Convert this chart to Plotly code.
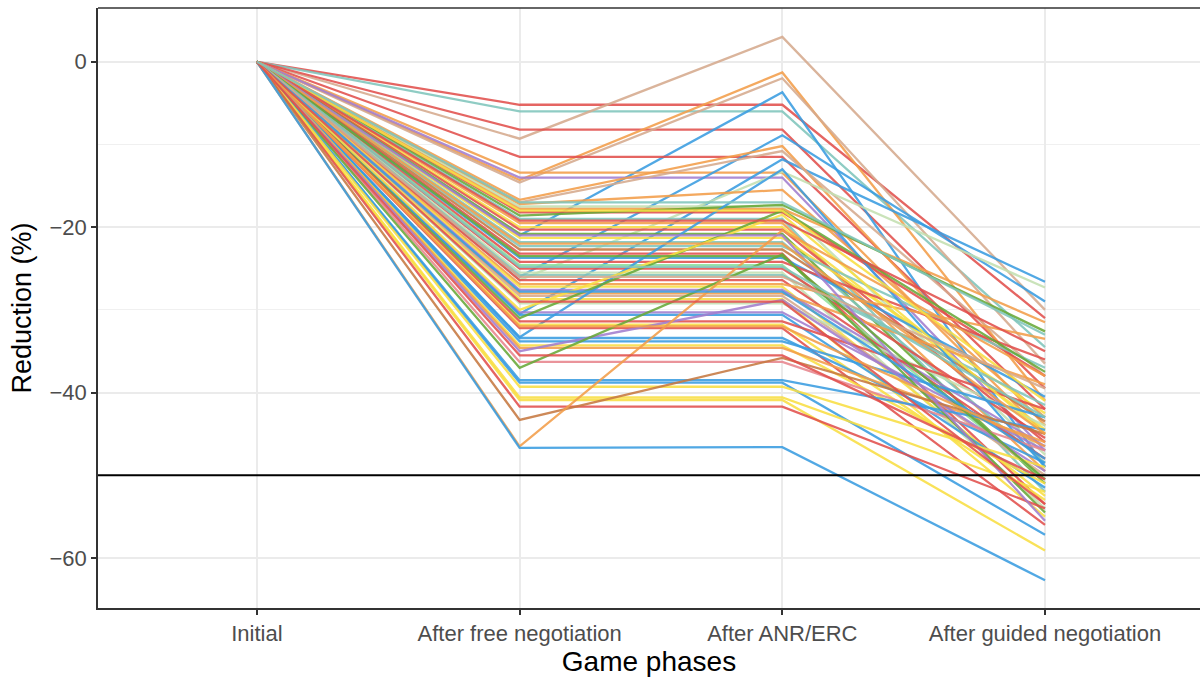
import plotly.graph_objects as go

phases = ["Initial", "After free negotiation", "After ANR/ERC", "After guided negotiation"]

# Reduction (%) per team at each game phase
free = [-5.2, -6.0, -9.3, -8.2, -14.3, -14.6, -21.0, -11.5, -13.4, -14.0,
        -26.0, -30.5, -16.7, -17.0, -26.4, -17.2, -17.5, -17.8, -18.2, -18.6,
        -19.0, -19.5, -20.0, -20.3, -20.8, -21.3, -21.8, -22.3, -22.7, -23.2,
        -23.7, -24.2, -24.6, -25.0, -25.5, -25.8, -26.4, -26.9, -27.2, -27.6,
        -28.0, -28.3, -28.7, -29.2, -33.3, -30.3, -30.6, -31.0, -31.4, -31.8,
        -32.2, -30.0, -33.4, -33.8, -34.3, -34.6, -35.0, -36.3, -37.0, -38.5,
        -38.8, -39.3, -40.6, -40.9, -41.7, -43.3, -46.5, -46.7, -18.0, -19.2,
        -21.0, -22.0, -23.5, -24.8, -26.0, -27.8, -29.0, -32.0, -35.5, -17.0]
anr = [-5.2, -6.0, 3.0, -8.2, -1.3, -2.0, -3.7, -11.5, -13.4, -14.0,
       -8.9, -11.8, -10.2, -10.8, -13.3, -15.5, -17.5, -17.8, -18.2, -17.3,
       -19.0, -19.5, -20.0, -20.3, -20.8, -21.3, -21.8, -22.3, -22.7, -23.2,
       -23.7, -24.2, -24.6, -25.0, -25.5, -25.8, -26.4, -26.9, -27.2, -27.6,
       -28.0, -28.3, -28.7, -29.2, -13.0, -30.3, -30.6, -18.0, -31.4, -31.8,
       -32.2, -18.5, -33.4, -33.8, -34.3, -34.6, -28.8, -36.3, -23.3, -38.5,
       -38.8, -39.3, -40.6, -40.9, -41.7, -35.8, -20.4, -46.6, -18.0, -19.2,
       -21.0, -22.0, -23.5, -24.8, -26.0, -27.8, -29.0, -32.0, -35.5, -17.0]
guided = [-31.0, -34.5, -30.0, -39.5, -41.0, -36.5, -49.0, -42.0, -45.0, -47.0,
          -29.0, -26.6, -44.0, -38.0, -27.3, -43.0, -47.5, -31.5, -38.0, -32.6,
          -52.0, -49.5, -44.5, -46.0, -51.0, -42.5, -48.5, -37.0, -43.5, -53.5,
          -40.5, -36.0, -50.5, -45.5, -54.0, -41.5, -48.0, -33.5, -52.5, -46.5,
          -39.0, -50.0, -55.0, -44.0, -49.0, -47.0, -51.5, -37.5, -42.0, -53.0,
          -56.0, -45.0, -48.5, -43.0, -51.0, -46.0, -49.5, -47.0, -54.5, -44.5,
          -57.2, -49.0, -52.0, -59.1, -54.0, -45.0, -38.0, -62.7, -41.0, -35.0,
          -55.5, -45.0, -50.5, -43.0, -39.5, -48.0, -53.5, -46.5, -50.5, -33.0]
group = ["red", "teal", "tan", "red", "orange", "tan", "blue", "red", "orange", "purple",
         "blue", "blue", "orange", "tan", "lightgreen", "orange", "lightgreen", "orange", "red", "green",
         "teal", "orange", "yellow", "red", "green", "yellow", "teal", "teal", "brown", "red",
         "blue", "red", "mint", "red", "lightgreen", "teal", "red", "orange", "yellow", "purple",
         "orange", "tan", "yellow", "lightgreen", "blue", "purple", "blue", "green", "red", "yellow",
         "red", "yellow", "blue", "blue", "yellow", "orange", "purple", "pink", "green", "blue",
         "blue", "yellow", "yellow", "yellow", "red", "brown", "orange", "blue", "yellow", "red",
         "purple", "orange", "green", "teal", "tan", "blue", "red", "orange", "red", "teal"]
target = -50

palette = {
    "red": "#E2504D", "blue": "#3A9DE1", "orange": "#F39E4A", "tan": "#D6AA8E",
    "teal": "#80C6BC", "green": "#68A938", "purple": "#A27ECF", "yellow": "#F9DF43",
    "lightgreen": "#C3E0B1", "pink": "#E8868E", "brown": "#C77941", "mint": "#8EE09B",
}

fig = go.Figure()
for f, a, g, grp in zip(free, anr, guided, group):
    fig.add_trace(go.Scatter(
        x=phases, y=[0, f, a, g], mode="lines",
        line=dict(color=palette[grp], width=2.3), opacity=0.88,
        showlegend=False, hoverinfo="skip"))

fig.add_hline(y=target, line=dict(color="black", width=2))
# top panel border
fig.add_shape(type="line", xref="paper", yref="paper", x0=0, x1=1, y0=1, y1=1,
              line=dict(color="#333333", width=1.5))

font_family = "Liberation Sans, Arial, sans-serif"
fig.update_layout(
    width=1200, height=680,
    margin=dict(l=98, r=0, t=8, b=72),
    paper_bgcolor="white", plot_bgcolor="white",
    font=dict(family=font_family),
    xaxis=dict(
        type="category", categoryorder="array", categoryarray=phases,
        range=[-0.605, 3.59],
        showgrid=True, gridcolor="#EBEBEB", gridwidth=1.5,
        showline=True, linecolor="#333333", linewidth=1.5,
        ticks="outside", ticklen=5, tickcolor="#333333", tickwidth=1.5,
        tickfont=dict(size=22, color="#4D4D4D"),
        title=dict(text="Game phases", font=dict(size=28, color="black"), standoff=6),
        zeroline=False,
    ),
    yaxis=dict(
        range=[-66.05, 6.5],
        tickvals=[0, -20, -40, -60],
        showgrid=True, gridcolor="#EBEBEB", gridwidth=1.5,
        minor=dict(tickvals=[-10, -30, -50], showgrid=True, gridcolor="#F0F0F0", gridwidth=1),
        showline=True, linecolor="#333333", linewidth=1.5,
        ticks="outside", ticklen=5, tickcolor="#333333", tickwidth=1.5,
        tickfont=dict(size=22, color="#4D4D4D"),
        title=dict(text="Reduction (%)", font=dict(size=27, color="black"), standoff=10),
        zeroline=False,
    ),
)

fig.write_html("out.html")
